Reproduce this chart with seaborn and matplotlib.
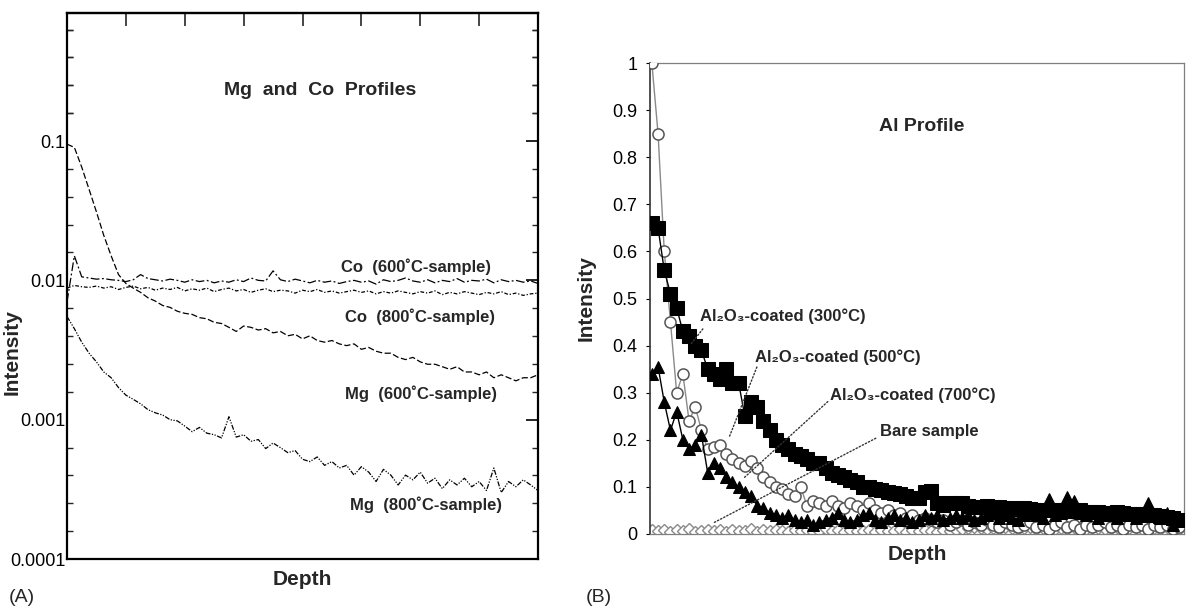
import numpy as np
import matplotlib
matplotlib.use("Agg")
import matplotlib.pyplot as plt
import seaborn as sns
from matplotlib.ticker import FixedLocator, FixedFormatter, NullFormatter

sns.set_style("white")
plt.rcParams['font.family'] = ['Liberation Sans', 'DejaVu Sans']

# ---------------- Panel A data (log scale, Depth 0..8) ----------------
co600 = [0.0070, 0.0150, 0.0106, 0.0104, 0.0102, 0.0103, 0.0101, 0.0100, 0.0098, 0.0101,
         0.0110, 0.0103, 0.0101, 0.0099, 0.0102, 0.0100, 0.0097, 0.0101, 0.0098, 0.0100,
         0.0096, 0.0099, 0.0097, 0.0101, 0.0098, 0.0104, 0.0100, 0.0099, 0.0117, 0.0101,
         0.0098, 0.0102, 0.0099, 0.0096, 0.0100, 0.0097, 0.0099, 0.0095, 0.0098, 0.0100,
         0.0097, 0.0099, 0.0094, 0.0101, 0.0098, 0.0100, 0.0104, 0.0099, 0.0097, 0.0101,
         0.0096, 0.0100, 0.0098, 0.0103, 0.0097, 0.0100, 0.0099, 0.0102, 0.0096, 0.0101,
         0.0098, 0.0100, 0.0097, 0.0099, 0.0095]
co800 = [0.0088, 0.0092, 0.0090, 0.0089, 0.0091, 0.0088, 0.0090, 0.0086, 0.0089, 0.0091,
         0.0087, 0.0089, 0.0085, 0.0088, 0.0086, 0.0089, 0.0084, 0.0087, 0.0085, 0.0088,
         0.0083, 0.0086, 0.0088, 0.0084, 0.0086, 0.0082, 0.0085, 0.0087, 0.0083, 0.0085,
         0.0084, 0.0081, 0.0085, 0.0083, 0.0086, 0.0082, 0.0084, 0.0081, 0.0083, 0.0085,
         0.0082, 0.0084, 0.0080, 0.0083, 0.0081, 0.0084, 0.0082, 0.0080, 0.0083, 0.0081,
         0.0084, 0.0079, 0.0082, 0.0080, 0.0083, 0.0081, 0.0079, 0.0082, 0.0080, 0.0083,
         0.0079, 0.0081, 0.0078, 0.0080, 0.0081]
mg600 = [0.095, 0.090, 0.065, 0.045, 0.031, 0.021, 0.015, 0.011, 0.0095, 0.0088,
         0.0082, 0.0075, 0.0071, 0.0066, 0.0064, 0.0060, 0.0058, 0.0057, 0.0054, 0.0053,
         0.0050, 0.0049, 0.0046, 0.0043, 0.0047, 0.0046, 0.0044, 0.0045, 0.0042, 0.0043,
         0.0040, 0.0041, 0.0038, 0.0040, 0.0037, 0.0036, 0.0037, 0.0035, 0.0034, 0.0035,
         0.0032, 0.0033, 0.0031, 0.0030, 0.0030, 0.0028, 0.0027, 0.0028, 0.0026, 0.0025,
         0.0025, 0.0024, 0.0023, 0.0024, 0.0022, 0.0022, 0.0021, 0.0022, 0.0020, 0.0021,
         0.0020, 0.0019, 0.0020, 0.0020, 0.0021]
mg800 = [0.0055, 0.0045, 0.0036, 0.0030, 0.0026, 0.0022, 0.0020, 0.0017, 0.0015, 0.0014,
         0.0013, 0.00118, 0.00112, 0.00108, 0.00100, 0.00098, 0.00090, 0.00082, 0.00088, 0.00080,
         0.00078, 0.00074, 0.00105, 0.00075, 0.00078, 0.00070, 0.00072, 0.00062, 0.00068, 0.00063,
         0.00058, 0.00060, 0.00052, 0.00050, 0.00054, 0.00047, 0.00050, 0.00045, 0.00047, 0.00040,
         0.00046, 0.00042, 0.00036, 0.00044, 0.00040, 0.00034, 0.00040, 0.00037, 0.00042, 0.00035,
         0.00038, 0.00032, 0.00037, 0.00034, 0.00038, 0.00033, 0.00036, 0.00031, 0.00045, 0.00030,
         0.00036, 0.00033, 0.00037, 0.00034, 0.00031]
a_labels = ["Co  (600\u02daC-sample)", "Co  (800\u02daC-sample)",
            "Mg  (600\u02daC-sample)", "Mg  (800\u02daC-sample)"]
a_ticks = [1e-4, 1e-3, 1e-2, 1e-1]
a_ticklabels = ["0.0001", "0.001", "0.01", "0.1"]

# ---------------- Panel B data (linear, index along depth) ----------------
al300 = [0.66, 0.65, 0.56, 0.51, 0.48, 0.43, 0.42, 0.40, 0.39, 0.35,
         0.34, 0.33, 0.35, 0.32, 0.32, 0.25, 0.28, 0.27, 0.24, 0.22,
         0.20, 0.19, 0.18, 0.17, 0.165, 0.16, 0.15, 0.15, 0.14, 0.13,
         0.125, 0.12, 0.115, 0.11, 0.10, 0.10, 0.095, 0.093, 0.09, 0.088,
         0.085, 0.08, 0.077, 0.076, 0.09, 0.092, 0.065, 0.062, 0.065, 0.066,
         0.066, 0.06, 0.058, 0.057, 0.06, 0.058, 0.057, 0.055, 0.056, 0.054,
         0.055, 0.053, 0.052, 0.052, 0.05, 0.05, 0.051, 0.049, 0.048, 0.05,
         0.047, 0.046, 0.047, 0.045, 0.044, 0.046, 0.044, 0.043, 0.042, 0.043,
         0.041, 0.04, 0.038, 0.036, 0.034, 0.03]
al500 = [1.00, 0.85, 0.60, 0.45, 0.30, 0.34, 0.24, 0.27, 0.22, 0.18,
         0.185, 0.19, 0.17, 0.16, 0.15, 0.145, 0.155, 0.14, 0.12, 0.11,
         0.10, 0.095, 0.085, 0.08, 0.10, 0.06, 0.07, 0.065, 0.06, 0.07,
         0.06, 0.055, 0.065, 0.06, 0.05, 0.065, 0.05, 0.045, 0.05, 0.04,
         0.045, 0.035, 0.04, 0.03, 0.035, 0.03, 0.025, 0.03, 0.02, 0.025,
         0.03, 0.02, 0.025, 0.02, 0.03, 0.02, 0.015, 0.025, 0.02, 0.015,
         0.02, 0.025, 0.015, 0.02, 0.01, 0.02, 0.025, 0.015, 0.02, 0.01,
         0.02, 0.015, 0.02, 0.025, 0.015, 0.02, 0.01, 0.02, 0.015, 0.02,
         0.01, 0.02, 0.015, 0.02, 0.01, 0.015]
al700 = [0.34, 0.355, 0.28, 0.22, 0.26, 0.20, 0.18, 0.19, 0.21, 0.13,
         0.15, 0.14, 0.12, 0.11, 0.10, 0.09, 0.08, 0.06, 0.055, 0.045,
         0.04, 0.035, 0.04, 0.03, 0.025, 0.03, 0.02, 0.025, 0.03, 0.035,
         0.045, 0.03, 0.025, 0.03, 0.04, 0.045, 0.03, 0.025, 0.035, 0.04,
         0.03, 0.035, 0.025, 0.03, 0.04, 0.035, 0.04, 0.03, 0.035, 0.04,
         0.035, 0.04, 0.03, 0.035, 0.04, 0.045, 0.035, 0.04, 0.035, 0.03,
         0.04, 0.045, 0.04, 0.035, 0.075, 0.04, 0.045, 0.078, 0.07, 0.045,
         0.04, 0.045, 0.035, 0.04, 0.04, 0.035, 0.04, 0.045, 0.035, 0.04,
         0.065, 0.04, 0.035, 0.045, 0.02, 0.03]
bare = [0.008, 0.006, 0.009, 0.005, 0.008, 0.006, 0.010, 0.005, 0.007, 0.009,
        0.006, 0.008, 0.005, 0.009, 0.007, 0.006, 0.010, 0.005, 0.008, 0.006,
        0.009, 0.007, 0.005, 0.008, 0.006, 0.009, 0.005, 0.007, 0.010, 0.006,
        0.008, 0.005, 0.009, 0.007, 0.006, 0.008, 0.005, 0.009, 0.007, 0.006,
        0.010, 0.005, 0.008, 0.006, 0.009, 0.007, 0.005, 0.008, 0.006, 0.009,
        0.010, 0.012, 0.015, 0.012, 0.010, 0.013, 0.011, 0.014, 0.012, 0.010,
        0.013, 0.015, 0.011, 0.012, 0.014, 0.010, 0.013, 0.011, 0.015, 0.012,
        0.010, 0.014, 0.012, 0.011, 0.013, 0.015, 0.010, 0.012, 0.014, 0.011,
        0.013, 0.012, 0.010, 0.014, 0.012, 0.011]
b_labels = ["Al\u2082O\u2083-coated (300\u00b0C)", "Al\u2082O\u2083-coated (500\u00b0C)",
            "Al\u2082O\u2083-coated (700\u00b0C)", "Bare sample"]
b_ticks = [0, 0.1, 0.2, 0.3, 0.4, 0.5, 0.6, 0.7, 0.8, 0.9, 1.0]
b_ticklabels = ["0", "0.1", "0.2", "0.3", "0.4", "0.5", "0.6", "0.7", "0.8", "0.9", "1"]

W, H = 1187, 606
fig = plt.figure(figsize=(W / 100, H / 100), dpi=100)
fig.patch.set_facecolor("white")

# ================= Panel A =================
axA = fig.add_axes([67 / W, 1 - 559 / H, (538 - 67) / W, (559 - 13) / H])
axA.set_yscale("log")


def xs(v, span=8.0):
    return np.linspace(0, span, len(v))


sns.lineplot(x=xs(co600), y=co600, ax=axA, color="black", lw=0.9,
             linestyle=(0, (7, 2, 1.5, 2)))
sns.lineplot(x=xs(co800), y=co800, ax=axA, color="black", lw=0.9,
             linestyle=(0, (3, 1.5, 1, 1.5)))
sns.lineplot(x=xs(mg600), y=mg600, ax=axA, color="black", lw=0.9,
             linestyle=(0, (5, 2)))
sns.lineplot(x=xs(mg800), y=mg800, ax=axA, color="black", lw=0.9,
             linestyle=(0, (4, 1.2, 1, 1.2, 1, 1.2)))

axA.set_xlim(0, 8)
axA.set_ylim(1e-4, 0.83)
axA.set_xticks([1, 3, 4, 5, 6, 7])
axA.yaxis.set_major_locator(FixedLocator(a_ticks))
axA.yaxis.set_major_formatter(FixedFormatter(a_ticklabels))
minor_a = [10 ** (d + j / 5) for d in range(-4, 0) for j in range(1, 5)] + \
          [10 ** (-1 + j / 5) for j in range(1, 5)]
axA.yaxis.set_minor_locator(FixedLocator(minor_a))
axA.yaxis.set_minor_formatter(NullFormatter())
axA.tick_params(axis="both", which="major", direction="in", length=9, width=1.2,
                top=False, right=True, labelbottom=False, labelsize=13, pad=1, colors="black")
axA.tick_params(axis="y", which="minor", direction="in", length=4.5, width=1.0,
                left=True, right=True)
secA = axA.secondary_xaxis("top")
secA.set_xticks([1, 2, 3, 4, 5, 6, 7])
secA.tick_params(direction="in", length=9, width=1.2, labeltop=False)
secA.spines["top"].set_linewidth(1.6)
for s in axA.spines.values():
    s.set_visible(True)
    s.set_color("black")
    s.set_linewidth(1.6)
axA.set_xlabel("Depth", fontsize=15, fontweight="bold", labelpad=8)
axA.set_ylabel("Intensity", fontsize=15, fontweight="bold")
axA.yaxis.set_label_coords((22 - 67) / 471, (559 - 352) / 546)
axA.grid(False)

axA.text(4.3, 0.23, "Mg  and  Co  Profiles", fontsize=14, fontweight="bold",
         ha="center", va="center")
a_pos = [(5.93, 0.0126), (6.0, 0.0055), (6.02, 0.00153), (6.1, 0.000245)]
for lab, (px, py) in zip(a_labels, a_pos):
    axA.text(px, py, lab, fontsize=12, fontweight="bold", ha="center", va="center")

fig.text(22 / W, 1 - 597 / H, "(A)", fontsize=14, ha="center", va="center")

# ================= Panel B =================
axB = fig.add_axes([650 / W, 1 - 534 / H, (1184 - 650) / W, (534 - 63) / H])
sns.lineplot(x=np.arange(len(bare)), y=bare, ax=axB, color="#9a9a9a", lw=0.8,
             marker="D", markersize=6, markerfacecolor="white",
             markeredgecolor="#8a8a8a", markeredgewidth=1.0, zorder=2)
sns.lineplot(x=np.arange(len(al500)), y=al500, ax=axB, color="#8a8a8a", lw=1.0,
             marker="o", markersize=8, markerfacecolor="white",
             markeredgecolor="#555555", markeredgewidth=1.1, zorder=3)
sns.lineplot(x=np.arange(len(al700)), y=al700, ax=axB, color="black", lw=1.0,
             marker="^", markersize=9, markerfacecolor="black",
             markeredgecolor="black", zorder=4)
sns.lineplot(x=np.arange(len(al300)), y=al300, ax=axB, color="black", lw=1.0,
             marker="s", markersize=9.5, markerfacecolor="black",
             markeredgecolor="black", zorder=5)

axB.set_xlim(-0.3, 85.8)
axB.set_ylim(0, 1)
axB.set_yticks(b_ticks)
axB.set_yticklabels(b_ticklabels)
axB.set_xticks([])
axB.tick_params(axis="y", which="major", direction="out", length=3, width=0.8,
                labelsize=13, pad=6, colors="black", left=True)
for name, s in axB.spines.items():
    s.set_visible(True)
    s.set_color("#7f7f7f")
    s.set_linewidth(0.9)
axB.spines["left"].set_color("#333333")
axB.spines["left"].set_linewidth(1.2)
axB.set_xlabel("Depth", fontsize=15, fontweight="bold", labelpad=8)
axB.set_ylabel("Intensity", fontsize=15, fontweight="bold", labelpad=12)
axB.grid(False)

axB.text(43.5, 0.866, "Al Profile", fontsize=14, fontweight="bold",
         ha="center", va="center")

b_text = [(7.7, 0.462), (16.6, 0.376), (28.7, 0.295), (36.8, 0.217)]
b_tips = [(6.1, 0.40), (12.3, 0.20), (14.5, 0.115), (9.4, 0.02)]
b_tails = [(8.5, 0.44), (17.1, 0.36), (28.7, 0.285), (36.5, 0.206)]
for lab, tpos, tip, tail in zip(b_labels, b_text, b_tips, b_tails):
    axB.text(tpos[0], tpos[1], lab, fontsize=12, fontweight="bold",
             ha="left", va="center", zorder=6)
    axB.annotate("", xy=tip, xytext=tail,
                 arrowprops=dict(arrowstyle="-", linestyle=(0, (1, 1.5)),
                                 color="#333333", lw=1.0), zorder=6)

fig.text(599 / W, 1 - 597 / H, "(B)", fontsize=14, ha="center", va="center")

fig.savefig("out.png", dpi=100)
